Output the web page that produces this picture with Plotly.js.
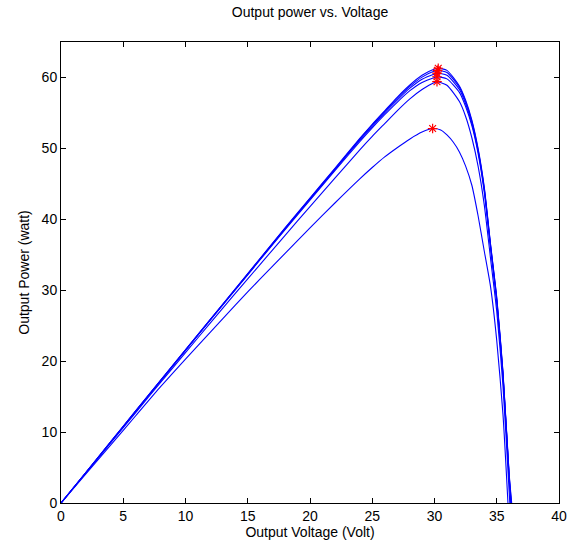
<!DOCTYPE html>
<html>
<head>
<meta charset="utf-8">
<script src="https://cdn.plot.ly/plotly-3.0.1.min.js"></script>
<style>html,body{margin:0;padding:0;background:#fff;}#chart{width:577px;height:552px;}</style>
</head>
<body>
<div id="chart"></div>
<script>
// Voltage samples (V) and power (W) for each curve
const voltsA = [0,2,4,6,8,10,12,14,16,18,20,22,24,25,26,27,28,29,30,30.3,31,32,32.5,33,33.5,34,34.5,35,35.5,36,36.2];
const powerA = [0,4.3,8.65,13.0,17.3,21.6,25.9,30.2,34.5,38.8,43.0,47.2,51.4,53.4,55.3,57.2,58.9,60.3,61.2,61.3,61.0,58.8,56.8,54.0,50.0,44.5,36.5,29.0,18.5,4.0,0];

const voltsB = [0,2,4,6,8,10,12,14,16,18,20,22,24,25,26,27,28,29,30,30.25,31,32,32.5,33,33.5,34,34.5,35,35.5,36,36.18];
const powerB = [0,4.3,8.65,13.0,17.3,21.6,25.9,30.15,34.45,38.75,42.95,47.1,51.3,53.3,55.2,57.05,58.7,60.05,60.9,61.0,60.7,58.6,56.6,53.8,49.8,44.3,36.4,28.8,18.3,3.8,0];

const voltsC = [0,2,4,6,8,10,12,14,16,18,20,22,24,25,26,27,28,29,30,30.2,31,32,32.5,33,33.5,34,34.5,35,35.5,36,36.15];
const powerC = [0,4.3,8.6,12.95,17.25,21.55,25.85,30.1,34.4,38.65,42.85,47.0,51.15,53.1,55.0,56.8,58.45,59.75,60.5,60.6,60.3,58.3,56.3,53.5,49.6,44.1,36.2,28.6,18.1,3.6,0];

const voltsD = [0,2,4,6,8,10,12,14,16,18,20,22,24,25,26,27,28,29,30,30.2,31,32,32.5,33,33.5,34,34.5,35,35.5,36,36.12];
const powerD = [0,4.3,8.6,12.9,17.2,21.5,25.8,30.05,34.3,38.55,42.7,46.85,50.95,52.9,54.75,56.5,58.1,59.3,60.0,60.1,59.8,57.9,55.9,53.2,49.3,43.8,36.0,28.4,17.9,3.4,0];

const voltsE = [0,2,4,6,8,10,12,14,16,18,20,22,24,25,26,27,28,29,30,30.2,31,32,32.5,33,33.5,34,34.5,35,35.5,36,36.05];
const powerE = [0,4.25,8.5,12.75,17.0,21.2,25.4,29.55,33.65,37.75,41.8,45.8,49.8,51.7,53.5,55.3,56.95,58.3,59.3,59.4,58.9,56.6,54.5,51.5,47.5,42.0,34.5,27.0,16.5,1.5,0];

const voltsF = [0,2,4,6,8,10,12,14,16,18,20,22,24,25,26,27,28,29,29.85,30.5,31,31.5,32,32.5,33,33.5,34,34.5,35,35.5,35.9];
const powerF = [0,4.1,8.2,12.3,16.4,20.3,24.1,27.9,31.6,35.2,38.8,42.3,45.7,47.3,48.8,50.1,51.3,52.3,52.8,52.6,51.9,50.9,49.5,47.5,44.8,40.5,35.5,30.5,22.9,12.5,0];

// Maximum power points
const peakV = [30.3,30.25,30.2,30.2,30.2,29.85];
const peakP = [61.3,61.0,60.6,60.1,59.4,52.8];

const xTicks = [0,5,10,15,20,25,30,35,40];
const yTicks = [0,10,20,30,40,50,60];

const curves = [[voltsA,powerA],[voltsB,powerB],[voltsC,powerC],[voltsD,powerD],[voltsE,powerE],[voltsF,powerF]];
const traces = curves.map(c => ({
  x: c[0], y: c[1], type: 'scatter', mode: 'lines',
  line: {color: '#0000ff', width: 1.1, shape: 'spline', smoothing: 0.6}, hoverinfo: 'skip', showlegend: false
}));
traces.push({
  x: peakV, y: peakP, type: 'scatter', mode: 'markers',
  marker: {symbol: 'asterisk-open', size: 8, color: '#ff0000', line: {color: '#ff0000', width: 1.2}},
  showlegend: false
});

const font = {family: 'Liberation Sans, Arial, sans-serif', size: 14, color: '#000'};
const layout = {
  width: 577, height: 552,
  margin: {l: 61, r: 18, t: 42, b: 49},
  paper_bgcolor: '#fff', plot_bgcolor: '#fff',
  font: font,
  title: {text: 'Output power vs. Voltage', font: {family: font.family, size: 14, color: '#000'},
          xref: 'paper', x: 0.5, xanchor: 'center', yref: 'container', y: 0.978, yanchor: 'middle'},
  xaxis: {
    range: [0, 40], tickvals: xTicks, ticktext: xTicks.map(String),
    ticks: 'inside', ticklen: 5, tickcolor: '#000', tickwidth: 1,
    showline: true, linecolor: '#000', linewidth: 1, mirror: 'ticks',
    showgrid: false, zeroline: false, automargin: false,
    tickfont: {family: font.family, size: 14, color: '#000'},
    title: {text: 'Output Voltage (Volt)', font: {family: font.family, size: 14, color: '#000'}, standoff: 4}
  },
  yaxis: {
    range: [0, 65], tickvals: yTicks, ticktext: yTicks.map(String),
    ticks: 'inside', ticklen: 5, tickcolor: '#000', tickwidth: 1,
    showline: true, linecolor: '#000', linewidth: 1, mirror: 'ticks',
    showgrid: false, zeroline: false, automargin: false,
    tickfont: {family: font.family, size: 14, color: '#000'},
    title: {text: 'Output Power (watt)', font: {family: font.family, size: 14, color: '#000'}, standoff: 8}
  }
};
Plotly.newPlot('chart', traces, layout, {displayModeBar: false, staticPlot: true});
</script>
</body>
</html>
